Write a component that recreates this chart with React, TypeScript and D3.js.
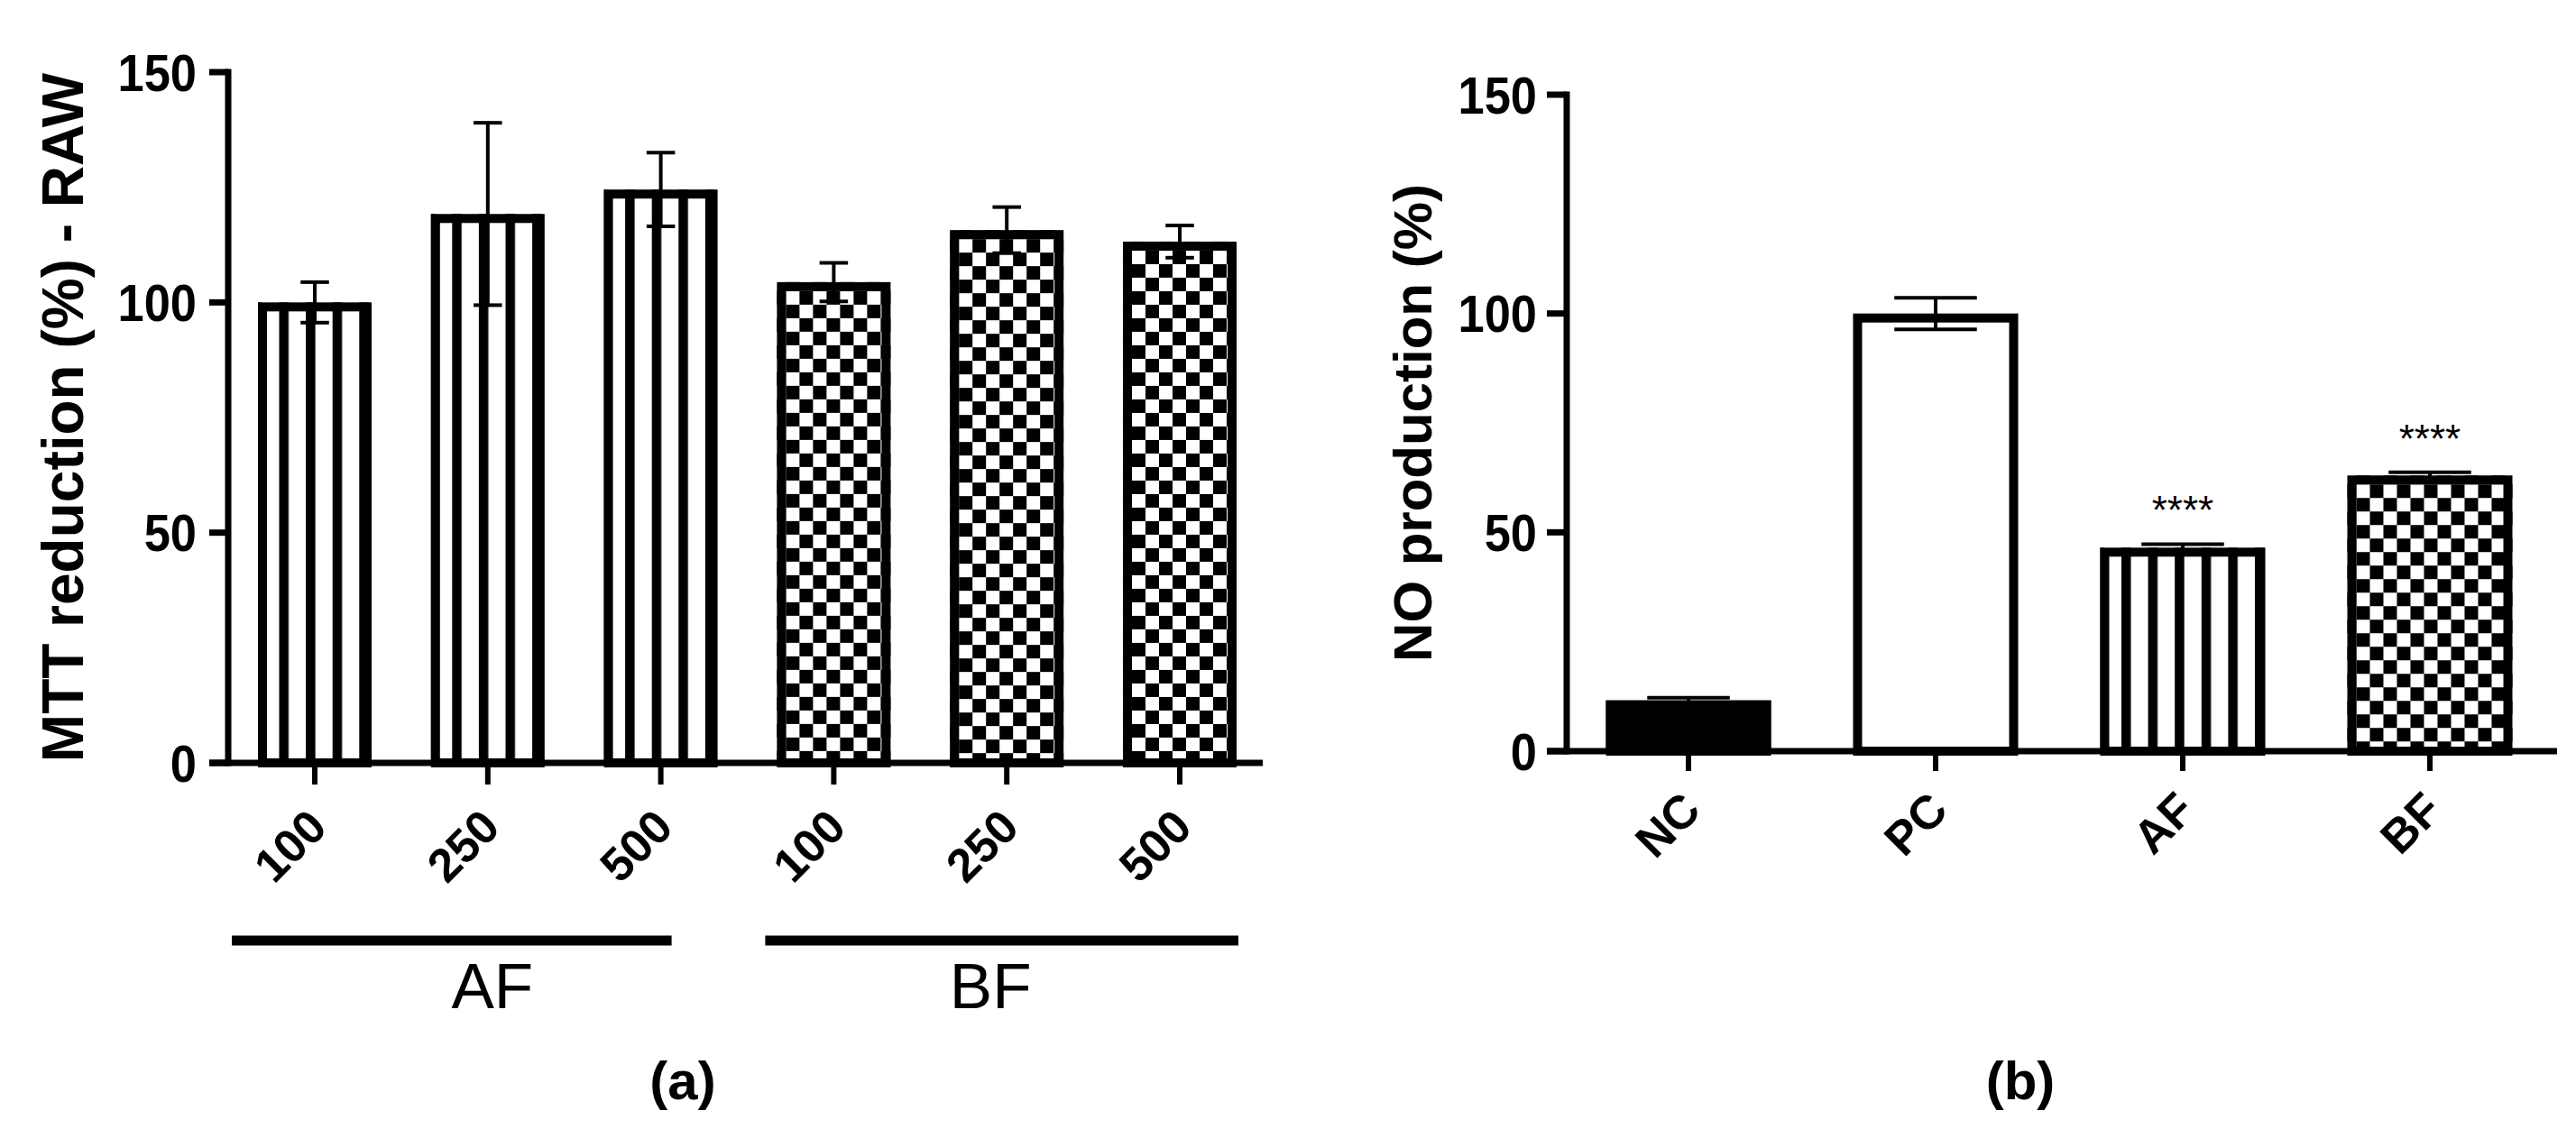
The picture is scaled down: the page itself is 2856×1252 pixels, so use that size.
import React from 'react';
import * as d3 from 'd3';

// ---------- data ----------
const aIds = ['AF-100', 'AF-250', 'AF-500', 'BF-100', 'BF-250', 'BF-500'];
const aLabels = ['100', '250', '500', '100', '250', '500'];
const aMeans = [100, 119.2, 124.5, 104.4, 115.7, 113.2];
const aSD = [4.4, 19.8, 8.0, 4.2, 5.0, 3.5];
const aFills = ['stripe', 'stripe', 'stripe', 'checker', 'checker', 'checker'];
const aGroupNames = ['AF', 'BF'];
const aGroupMembers = [['AF-100', 'AF-250', 'AF-500'], ['BF-100', 'BF-250', 'BF-500']];
const aYLabel = 'MTT reduction (%) - RAW';

const bCats = ['NC', 'PC', 'AF', 'BF'];
const bMeans = [11.6, 100, 46.5, 63.0];
const bSD = [0.6, 3.6, 0.8, 0.7];
const bFills = ['solid', 'open', 'stripe', 'checker'];
const bSig = ['', '', '****', '****'];
const bYLabel = 'NO production (%)';

const yTicks = [0, 50, 100, 150];
const panelTitles = ['(a)', '(b)'];

// ---------- style ----------
const FONT = '"Liberation Sans", Arial, Helvetica, sans-serif';
const AXW = 7;
const TICKW = 6;
const BORDER = 10;

function Bar({ id, x, w, yTop, yBase, fill }) {
  const h = yBase - yTop;
  const ix = x + BORDER;
  const iy = yTop + BORDER;
  let patternEl = null;
  let fillRef = 'white';
  if (fill === 'stripe') {
    patternEl = (
      <pattern id={id} patternUnits="userSpaceOnUse" x={ix + 13.5} y={0} width={29.6} height={20}>
        <rect x={0} y={0} width={29.6} height={20} fill="white" />
        <rect x={0} y={0} width={10.5} height={20} fill="black" />
      </pattern>
    );
    fillRef = `url(#${id})`;
  } else if (fill === 'checker') {
    const s = 15;
    patternEl = (
      <pattern id={id} patternUnits="userSpaceOnUse" x={ix} y={iy} width={2 * s} height={2 * s}>
        <rect x={0} y={0} width={2 * s} height={2 * s} fill="white" />
        <rect x={s} y={0} width={s} height={s} fill="black" />
        <rect x={0} y={s} width={s} height={s} fill="black" />
      </pattern>
    );
    fillRef = `url(#${id})`;
  } else if (fill === 'solid') {
    fillRef = 'black';
  }
  return (
    <g>
      {patternEl && <defs>{patternEl}</defs>}
      <rect x={x} y={yTop} width={w} height={h} fill={fillRef} />
      <rect
        x={x + BORDER / 2}
        y={yTop + BORDER / 2}
        width={w - BORDER}
        height={Math.max(0, h - BORDER / 2)}
        fill="none"
        stroke="black"
        strokeWidth={BORDER}
      />
    </g>
  );
}

function ErrBar({ cx, yHi, yLo, cap }) {
  return (
    <g stroke="black" strokeWidth={4}>
      <line x1={cx} x2={cx} y1={yHi} y2={yLo} />
      <line x1={cx - cap / 2} x2={cx + cap / 2} y1={yHi} y2={yHi} />
      <line x1={cx - cap / 2} x2={cx + cap / 2} y1={yLo} y2={yLo} />
    </g>
  );
}

function TickLabel({ x, y, children }) {
  return (
    <text
      transform={`translate(${x},${y}) scale(0.92,1)`}
      dy="0.36em"
      textAnchor="end"
      fontSize={57}
      fontWeight="bold"
    >
      {children}
    </text>
  );
}

export default function App() {
  // ---------- panel (a) ----------
  const ax = d3.scaleBand().domain(aIds).range([286, 1371]).paddingInner(0.343).paddingOuter(0);
  const ay = d3.scaleLinear().domain([0, 150]).range([846, 80]);
  const aAxisX = 253;
  const aXEnd = 1400;

  // ---------- panel (b) ----------
  const bx = d3.scaleBand().domain(bCats).range([1780.5, 2785.5]).paddingInner(0.332).paddingOuter(0);
  const by = d3.scaleLinear().domain([0, 150]).range([833, 105]);
  const bAxisX = 1737;
  const bXEnd = 2835;

  const groupSpans = [[-92, 12], [-76, 65]];
  const groupLabelShift = [5, -18];

  return (
    <svg
      width={2856}
      height={1252}
      style={{ position: 'absolute', left: 0, top: 0, background: 'white' }}
      fontFamily={FONT}
    >
      <rect x={0} y={0} width={2856} height={1252} fill="white" />

      {/* ===== Panel (a) ===== */}
      <g>
        {aIds.map((id, i) => {
          const x = ax(id);
          const w = ax.bandwidth();
          return (
            <Bar key={id} id={`pa-${i}`} x={x} w={w} yTop={ay(aMeans[i])} yBase={ay(0)} fill={aFills[i]} />
          );
        })}
        {aIds.map((id, i) => {
          const cx = ax(id) + ax.bandwidth() / 2;
          return (
            <ErrBar key={id} cx={cx} yHi={ay(aMeans[i] + aSD[i])} yLo={ay(aMeans[i] - aSD[i])} cap={ax.bandwidth() / 4} />
          );
        })}
        {/* axes */}
        <line x1={aAxisX} x2={aAxisX} y1={ay(150) - AXW / 2} y2={ay(0) + AXW / 2} stroke="black" strokeWidth={AXW} />
        <line x1={aAxisX - 21} x2={aXEnd} y1={ay(0)} y2={ay(0)} stroke="black" strokeWidth={AXW} />
        {yTicks.map((t) => (
          <g key={t}>
            <line x1={aAxisX - 21} x2={aAxisX} y1={ay(t)} y2={ay(t)} stroke="black" strokeWidth={AXW} />
            <TickLabel x={aAxisX - 35} y={ay(t)}>{t}</TickLabel>
          </g>
        ))}
        {aIds.map((id, i) => {
          const cx = ax(id) + ax.bandwidth() / 2;
          return (
            <g key={id}>
              <line x1={cx} x2={cx} y1={ay(0)} y2={ay(0) + 24} stroke="black" strokeWidth={TICKW} />
              <text
                transform={`translate(${cx + 16},${ay(0) + 74}) rotate(-45)`}
                textAnchor="end"
                fontSize={52}
                fontWeight="bold"
              >
                {aLabels[i]}
              </text>
            </g>
          );
        })}
        <text
          transform={`translate(92,${(ay(0) + ay(150)) / 2}) rotate(-90)`}
          textAnchor="middle"
          fontSize={64}
          fontWeight="bold"
        >
          {aYLabel}
        </text>
        {aGroupNames.map((g, gi) => {
          const mem = aGroupMembers[gi];
          const c0 = ax(mem[0]) + ax.bandwidth() / 2;
          const c1 = ax(mem[mem.length - 1]) + ax.bandwidth() / 2;
          const x0 = c0 + groupSpans[gi][0];
          const x1 = c1 + groupSpans[gi][1];
          return (
            <g key={g}>
              <rect x={x0} y={1037.5} width={x1 - x0} height={11} fill="black" />
              <text x={(c0 + c1) / 2 + groupLabelShift[gi]} y={1118} textAnchor="middle" fontSize={71}>
                {g}
              </text>
            </g>
          );
        })}
        <text x={757} y={1219} textAnchor="middle" fontSize={60} fontWeight="bold">
          {panelTitles[0]}
        </text>
      </g>

      {/* ===== Panel (b) ===== */}
      <g>
        {bCats.map((c, i) => (
          <Bar key={c} id={`pb-${i}`} x={bx(c)} w={bx.bandwidth()} yTop={by(bMeans[i])} yBase={by(0)} fill={bFills[i]} />
        ))}
        {bCats.map((c, i) => {
          const cx = bx(c) + bx.bandwidth() / 2;
          return (
            <ErrBar key={c} cx={cx} yHi={by(bMeans[i] + bSD[i])} yLo={by(bMeans[i] - bSD[i])} cap={bx.bandwidth() / 2} />
          );
        })}
        {bCats.map((c, i) =>
          bSig[i] ? (
            <text
              key={c}
              x={bx(c) + bx.bandwidth() / 2}
              y={by(bMeans[i] + bSD[i]) - 22}
              textAnchor="middle"
              fontSize={44}
            >
              {bSig[i]}
            </text>
          ) : null
        )}
        <line x1={bAxisX} x2={bAxisX} y1={by(150) - AXW / 2} y2={by(0) + AXW / 2} stroke="black" strokeWidth={AXW} />
        <line x1={bAxisX - 22} x2={bXEnd} y1={by(0)} y2={by(0)} stroke="black" strokeWidth={AXW} />
        {yTicks.map((t) => (
          <g key={t}>
            <line x1={bAxisX - 22} x2={bAxisX} y1={by(t)} y2={by(t)} stroke="black" strokeWidth={AXW} />
            <TickLabel x={bAxisX - 33} y={by(t)}>{t}</TickLabel>
          </g>
        ))}
        {bCats.map((c) => {
          const cx = bx(c) + bx.bandwidth() / 2;
          return (
            <g key={c}>
              <line x1={cx} x2={cx} y1={by(0)} y2={by(0) + 22} stroke="black" strokeWidth={TICKW} />
              <text
                transform={`translate(${cx + 16},${by(0) + 68}) rotate(-45)`}
                textAnchor="end"
                fontSize={52}
                fontWeight="bold"
              >
                {c}
              </text>
            </g>
          );
        })}
        <text
          transform={`translate(1587,${(by(0) + by(150)) / 2}) rotate(-90)`}
          textAnchor="middle"
          fontSize={60}
          fontWeight="bold"
        >
          {bYLabel}
        </text>
        <text x={2240} y={1219} textAnchor="middle" fontSize={60} fontWeight="bold">
          {panelTitles[1]}
        </text>
      </g>
    </svg>
  );
}
